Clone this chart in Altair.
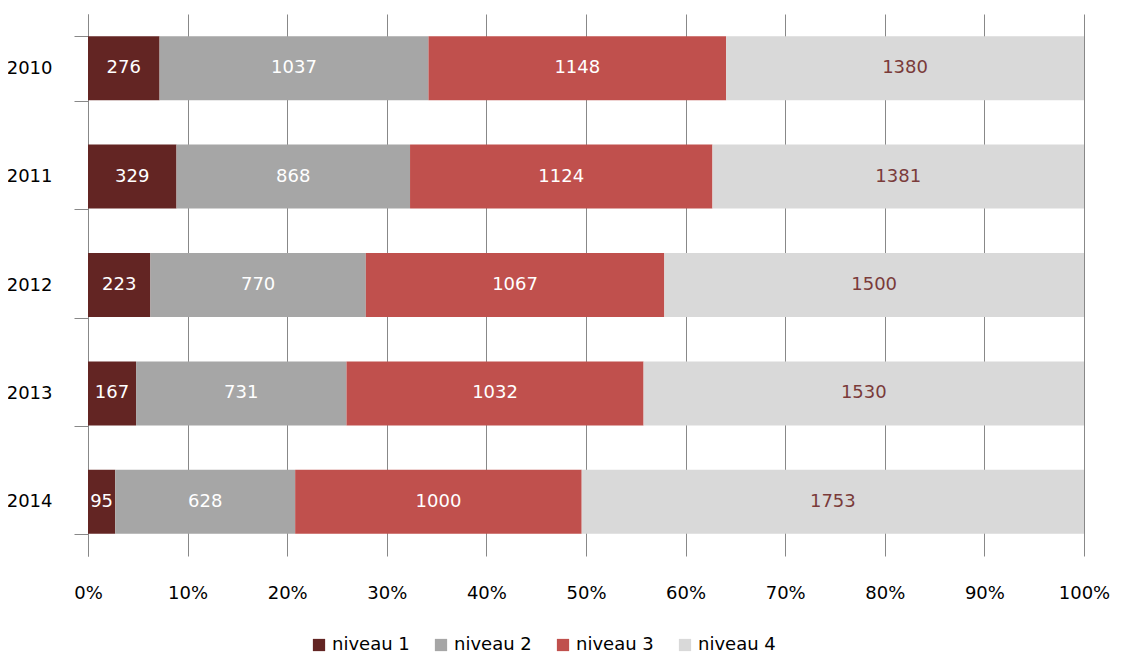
import altair as alt
import pandas as pd

years = ["2010", "2011", "2012", "2013", "2014"]
levels = ["niveau 1", "niveau 2", "niveau 3", "niveau 4"]
niveau1 = [276, 329, 223, 167, 95]
niveau2 = [1037, 868, 770, 731, 628]
niveau3 = [1148, 1124, 1067, 1032, 1000]
niveau4 = [1380, 1381, 1500, 1530, 1753]
colors = ["#632523", "#a6a6a6", "#c0504d", "#d9d9d9"]
text_colors = ["#ffffff", "#ffffff", "#ffffff", "#7a3b3a"]

rows = []
for i, y in enumerate(years):
    for j, (lev, vals) in enumerate(zip(levels, [niveau1, niveau2, niveau3, niveau4])):
        rows.append({"year": y, "level": lev, "order": j, "value": vals[i]})
df = pd.DataFrame(rows)

base = alt.Chart(df).transform_stack(
    stack="value", groupby=["year"], sort=[alt.SortField("order")],
    offset="normalize", as_=["x0", "x1"]
).transform_calculate(mid="(datum.x0 + datum.x1) / 2")

bars = base.mark_bar(size=64).encode(
    y=alt.Y("year:N", sort=years, title=None,
            axis=alt.Axis(labelFontSize=18, labelColor="#000", labelPadding=22,
                          tickSize=14, tickColor="#888", domainColor="#888",
                          tickBand="extent", labelFont="DejaVu Sans")),
    x=alt.X("x0:Q", title=None, scale=alt.Scale(domain=[0, 1], nice=False),
            axis=alt.Axis(format="%", values=[i / 10 for i in range(11)],
                          labelFontSize=18, labelColor="#000", labelPadding=28,
                          labelAlign="center", labelFlush=False, labelBound=False,
                          tickSize=0, domain=False, gridColor="#888",
                          labelFont="DejaVu Sans")),
    x2="x1:Q",
    color=alt.Color("level:N", sort=levels,
                    scale=alt.Scale(domain=levels, range=colors),
                    legend=alt.Legend(title=None, orient="none", direction="horizontal",
                                      legendX=222, legendY=622,
                                      symbolType="square", symbolSize=150,
                                      symbolStrokeWidth=0, labelFontSize=18,
                                      labelFont="DejaVu Sans", columnPadding=22,
                                      labelColor="#000")),
)

text = base.mark_text(fontSize=18, font="DejaVu Sans").encode(
    y=alt.Y("year:N", sort=years),
    x=alt.X("mid:Q"),
    text="value:Q",
    color=alt.Color("level:N", scale=alt.Scale(domain=levels, range=text_colors), legend=None),
)

chart = alt.layer(bars, text).resolve_scale(color="independent").properties(
    width=996, height=542,
    padding={"left": 80, "top": 6, "right": 30, "bottom": 104},
    autosize=alt.AutoSizeParams(type="none"),
).configure_view(stroke=None).configure_scale(bandPaddingInner=0.4, bandPaddingOuter=0.2)

chart.save("out.html", embed_options={"renderer": "svg", "actions": False})
